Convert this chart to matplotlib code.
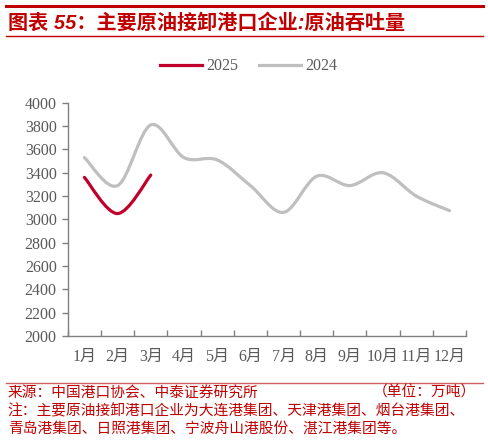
import numpy as np
import matplotlib
matplotlib.use("Agg")
import matplotlib.pyplot as plt
from matplotlib.path import Path
from matplotlib.patches import PathPatch
from matplotlib.lines import Line2D

# data (万吨)
months = ["1月", "2月", "3月", "4月", "5月", "6月", "7月", "8月", "9月", "10月", "11月", "12月"]
y2024 = [3530, 3290, 3810, 3530, 3510, 3290, 3060, 3370, 3290, 3400, 3200, 3075]
y2025 = [3360, 3050, 3380]

red = "#C0002A"
gray = "#BFBFBF"
txt = "#595959"
title_red = "#C00000"


def smooth_path(xs, ys):
    # Excel-style smoothed line as cubic bezier segments
    xs = np.asarray(xs, float)
    ys = np.asarray(ys, float)
    n = len(xs)
    verts = [(xs[0], ys[0])]
    codes = [Path.MOVETO]
    for i in range(n - 1):
        i0 = max(i - 1, 0)
        i3 = min(i + 2, n - 1)
        c1 = (xs[i] + (xs[i + 1] - xs[i0]) / 6, ys[i] + (ys[i + 1] - ys[i0]) / 6)
        c2 = (xs[i + 1] - (xs[i3] - xs[i]) / 6, ys[i + 1] - (ys[i3] - ys[i]) / 6)
        verts += [c1, c2, (xs[i + 1], ys[i + 1])]
        codes += [Path.CURVE4] * 3
    return Path(verts, codes)


fig = plt.figure(figsize=(4.88, 4.45), dpi=100)
ax = fig.add_axes([0.139, 0.245, 0.816, 0.524])

x = np.arange(len(months))
ax.add_patch(PathPatch(smooth_path(x, y2024), fill=False, edgecolor=gray,
                       lw=2.3, capstyle="round"))
ax.add_patch(PathPatch(smooth_path(x[:len(y2025)], y2025), fill=False,
                       edgecolor=red, lw=2.3, capstyle="round"))

ax.set_xlim(-0.5, len(months) - 0.5)
ax.set_ylim(2000, 4000)
ax.set_yticks(np.arange(2000, 4001, 200))
ax.set_xticks(np.arange(-0.5, len(months), 1.0))
ax.set_xticklabels([])
ax.set_xticks(x, minor=True)
ax.set_xticklabels(months, minor=True)

tick_font = ["Liberation Serif", "Noto Sans CJK SC"]
for lab in ax.get_yticklabels() + ax.get_xticklabels(minor=True):
    lab.set_family(tick_font)
    lab.set_fontsize(11.5)
    lab.set_color(txt)

for s in ["top", "right"]:
    ax.spines[s].set_visible(False)
for s in ["left", "bottom"]:
    ax.spines[s].set_color("#808080")
    ax.spines[s].set_linewidth(1.0)
ax.tick_params(axis="both", which="major", color="#808080", length=4, width=1.0)
ax.tick_params(axis="x", which="major", direction="in", length=4)
ax.tick_params(axis="x", which="minor", length=0, pad=9)
ax.tick_params(axis="y", direction="out", pad=4)

handles = [Line2D([], [], color=red, lw=2.3), Line2D([], [], color=gray, lw=2.3)]
leg = fig.legend(handles, ["2025", "2024"], loc="center", bbox_to_anchor=(0.51, 0.851),
                 ncol=2, frameon=False, handlelength=2.6, handletextpad=0.3,
                 columnspacing=1.3, prop={"family": tick_font, "size": 11.5})
for t in leg.get_texts():
    t.set_color(txt)

# title block
fig.add_artist(Line2D([0.012, 0.99], [0.986, 0.986], color=title_red, lw=2.2))
fig.add_artist(Line2D([0.012, 0.99], [0.919, 0.919], color=title_red, lw=1.0))
fig.text(0.016, 0.948, "图表 55：主要原油接卸港口企业:原油吞吐量", color=title_red,
         fontsize=14.5, fontweight="bold", style="italic",
         family=["Liberation Sans", "Noto Sans CJK SC"], va="center")

# footer
fig.add_artist(Line2D([0.012, 0.99], [0.14, 0.14], color="#D06060", lw=1.0))
foot_font = ["Noto Sans CJK SC"]
fs = 10.6
fig.text(0.016, 0.117, "来源：中国港口协会、中泰证券研究所", color=title_red,
         fontsize=fs, family=foot_font, va="center")
fig.text(0.975, 0.117, "（单位：万吨）", color=title_red,
         fontsize=fs, family=foot_font, va="center", ha="right")
fig.text(0.016, 0.075, "注：主要原油接卸港口企业为大连港集团、天津港集团、烟台港集团、",
         color=title_red, fontsize=fs, family=foot_font, va="center")
fig.text(0.016, 0.034, "青岛港集团、日照港集团、宁波舟山港股份、湛江港集团等。",
         color=title_red, fontsize=fs, family=foot_font, va="center")

fig.savefig("out.png", dpi=100)
